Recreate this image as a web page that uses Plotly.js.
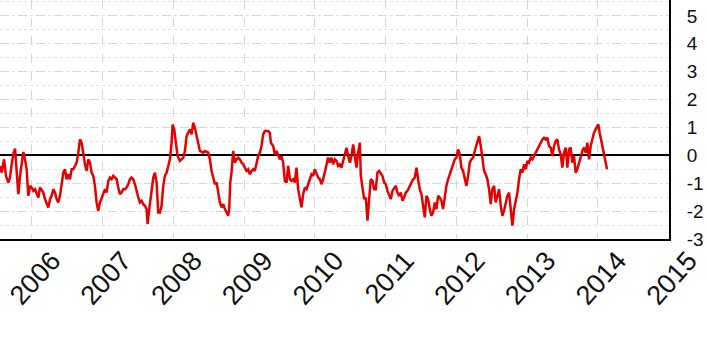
<!DOCTYPE html>
<html>
<head>
<meta charset="utf-8">
<script src="https://cdn.plot.ly/plotly-3.0.1.min.js"></script>
<style>html,body{margin:0;padding:0;background:#fff;}#chart{width:706px;height:348px;}</style>
</head>
<body>
<div id="chart"></div>
<script>
// Decimal-year time stamps
const timeYears = [
2005.548,2005.572,2005.605,2005.633,2005.666,2005.689,2005.713,2005.736,2005.760,2005.784,
2005.807,2005.831,2005.854,2005.878,2005.901,2005.925,2005.948,2005.972,2005.995,2006.019,
2006.043,2006.066,2006.090,2006.113,2006.137,2006.160,2006.184,2006.207,2006.231,2006.255,
2006.278,2006.302,2006.325,2006.349,2006.372,2006.396,2006.419,2006.443,2006.466,2006.490,
2006.514,2006.537,2006.561,2006.584,2006.608,2006.631,2006.655,2006.678,2006.702,2006.726,
2006.749,2006.773,2006.796,2006.820,2006.843,2006.867,2006.890,2006.914,2006.937,2006.961,
2006.985,2007.008,2007.032,2007.055,2007.079,2007.102,2007.126,2007.149,2007.173,2007.197,
2007.220,2007.244,2007.267,2007.291,2007.314,2007.338,2007.361,2007.385,2007.408,2007.432,
2007.456,2007.479,2007.503,2007.526,2007.550,2007.573,2007.597,2007.620,2007.635,2007.658,
2007.691,2007.715,2007.738,2007.762,2007.785,2007.809,2007.832,2007.856,2007.879,2007.903,
2007.927,2007.950,2007.974,2007.988,2008.011,2008.035,2008.058,2008.091,2008.115,2008.139,
2008.162,2008.186,2008.209,2008.233,2008.256,2008.280,2008.303,2008.327,2008.350,2008.374,
2008.421,2008.445,2008.492,2008.515,2008.539,2008.562,2008.586,2008.610,2008.633,2008.657,
2008.680,2008.704,2008.727,2008.751,2008.774,2008.788,2008.803,2008.821,2008.845,2008.869,
2008.892,2008.916,2008.939,2008.963,2008.986,2009.010,2009.033,2009.057,2009.080,2009.104,
2009.128,2009.151,2009.175,2009.198,2009.222,2009.245,2009.269,2009.292,2009.316,2009.340,
2009.363,2009.377,2009.410,2009.434,2009.457,2009.481,2009.504,2009.528,2009.551,2009.575,
2009.599,2009.622,2009.646,2009.669,2009.693,2009.716,2009.740,2009.763,2009.787,2009.811,
2009.834,2009.858,2009.881,2009.905,2009.928,2009.952,2009.975,2009.999,2010.022,2010.046,
2010.070,2010.093,2010.117,2010.140,2010.164,2010.187,2010.211,2010.234,2010.258,2010.282,
2010.305,2010.329,2010.352,2010.376,2010.399,2010.423,2010.446,2010.470,2010.494,2010.517,
2010.541,2010.564,2010.588,2010.611,2010.635,2010.649,2010.672,2010.696,2010.720,2010.743,
2010.767,2010.790,2010.814,2010.837,2010.861,2010.884,2010.908,2010.932,2010.955,2010.979,
2011.002,2011.026,2011.049,2011.073,2011.096,2011.120,2011.143,2011.167,2011.191,2011.214,
2011.238,2011.261,2011.285,2011.309,2011.332,2011.365,2011.388,2011.412,2011.436,2011.459,
2011.483,2011.506,2011.530,2011.553,2011.577,2011.600,2011.624,2011.647,2011.671,2011.695,
2011.718,2011.742,2011.765,2011.789,2011.812,2011.836,2011.859,2011.883,2011.907,2011.930,
2011.954,2011.977,2012.001,2012.024,2012.048,2012.071,2012.095,2012.118,2012.142,2012.166,
2012.189,2012.213,2012.236,2012.260,2012.283,2012.307,2012.321,2012.345,2012.368,2012.392,
2012.415,2012.439,2012.462,2012.486,2012.509,2012.533,2012.556,2012.580,2012.604,2012.627,
2012.651,2012.674,2012.698,2012.721,2012.745,2012.768,2012.792,2012.816,2012.839,2012.863,
2012.886,2012.910,2012.933,2012.957,2012.980,2013.004,2013.027,2013.051,2013.075,2013.098,
2013.122,2013.145,2013.169,2013.192,2013.216,2013.239,2013.263,2013.287,2013.310,2013.334,
2013.357,2013.381,2013.404,2013.428,2013.451,2013.475,2013.498,2013.522,2013.546,2013.569,
2013.593,2013.616,2013.640,2013.663,2013.687,2013.710,2013.734,2013.758,2013.781,2013.805,
2013.828,2013.852,2013.875,2013.899,2013.922,2013.946,2013.969,2013.993,2014.007,2014.026,
2014.050,2014.073,2014.097,2014.111,2014.130
];
// Series values
const seriesValues = [
-0.381,-0.619,-0.143,-0.738,-0.976,-0.798,-0.321,0.036,0.238,-0.5,
-1.393,-0.738,-0.262,0.119,-0.143,-0.5,-1.452,-1.095,-1.155,-1.274,
-1.214,-1.393,-1.512,-1.155,-1.274,-1.333,-1.571,-1.75,-1.869,-1.571,
-1.452,-1.214,-1.333,-1.571,-1.69,-1.452,-1.095,-0.619,-0.5,-0.857,
-0.679,-0.857,-0.5,-0.5,-0.381,-0.262,0.095,0.571,0.452,0.036,
-0.321,-0.56,-0.143,-0.262,-0.619,-0.738,-1.095,-1.69,-1.988,-1.69,
-1.512,-1.393,-1.214,-1.333,-0.917,-0.798,-0.857,-0.738,-0.798,-0.857,
-1.155,-1.393,-1.333,-1.214,-1.214,-1.155,-1.036,-0.857,-0.798,-0.857,
-1.036,-1.333,-1.512,-1.69,-1.631,-1.75,-1.81,-1.929,-2.464,-1.929,
-1.333,-0.798,-0.619,-0.976,-2.048,-2.048,-1.81,-1.095,-0.738,-0.619,
-0.381,-0.143,0.452,1.107,0.929,0.333,-0.024,-0.202,-0.143,-0.083,
0.155,0.69,0.81,0.929,0.75,1.167,0.988,0.69,0.333,0.155,
0.095,0.155,0.095,-0.143,-0.56,-0.857,-1.036,-0.976,-1.393,-1.69,
-1.869,-1.75,-1.929,-2.048,-2.167,-1.929,-0.976,-0.619,0.155,-0.262,
-0.143,-0.083,-0.143,-0.262,-0.321,-0.44,-0.56,-0.5,-0.679,-0.56,
-0.5,-0.56,-0.262,-0.024,0.095,0.333,0.75,0.869,0.869,0.869,
0.81,0.452,0.333,0.036,0.155,-0.024,-0.143,-0.024,-0.262,-0.917,
-0.976,-0.381,-0.857,-0.917,-0.857,-0.976,-0.44,-1.214,-1.512,-1.869,
-1.393,-1.155,-1.214,-0.976,-0.857,-0.679,-0.738,-0.5,-0.619,-0.798,
-0.857,-1.036,-0.857,-0.619,-0.381,-0.083,-0.262,-0.083,-0.321,-0.143,
-0.202,-0.381,-0.321,-0.44,-0.202,0.095,0.274,-0.024,-0.262,-0.024,
0.393,-0.024,-0.44,0.095,0.452,-0.738,-1.095,-1.571,-1.512,-2.345,
-1.571,-0.857,-0.917,-1.214,-1.214,-0.619,-0.56,-0.679,-0.738,-0.976,
-1.036,-1.274,-1.452,-1.571,-1.274,-1.155,-1.095,-1.333,-1.452,-1.333,
-1.631,-1.512,-1.333,-1.274,-1.155,-1.036,-0.857,-0.798,-0.44,-0.857,
-1.214,-1.393,-1.929,-2.226,-1.452,-1.571,-1.929,-2.167,-2.048,-1.69,
-1.929,-1.452,-1.512,-1.631,-1.929,-1.452,-1.095,-0.857,-0.619,-0.5,
-0.321,-0.143,-0.083,0.214,0.036,-0.44,-0.56,-0.798,-1.095,-0.738,
-0.262,-0.143,-0.083,0.155,0.333,0.571,0.69,0.333,-0.083,-0.56,
-0.679,-0.857,-1.214,-1.75,-1.214,-1.095,-1.69,-1.452,-1.214,-1.81,
-2.167,-1.988,-1.69,-1.452,-1.333,-1.81,-2.524,-1.929,-1.69,-1.333,
-0.857,-0.5,-0.619,-0.321,-0.5,-0.202,-0.262,-0.083,-0.143,-0.024,
0.095,0.214,0.333,0.452,0.571,0.631,0.571,0.631,0.333,0.274,
-0.024,0.333,0.512,0.571,0.214,0.036,-0.44,0.095,0.274,-0.44,
0.214,0.274,-0.262,-0.024,-0.619,-0.5,-0.262,-0.024,0.155,0.274,
0.095,0.452,-0.143,0.333,0.571,0.81,0.929,1.048,1.107,0.81,
0.512,0.274,-0.024,-0.143,-0.5
];
const xTickYears = [2006,2007,2008,2009,2010,2011,2012,2013,2014,2015];
const xTickLabels = ["2006","2007","2008","2009","2010","2011","2012","2013","2014","2015"];
const yTickValues = [-3,-2,-1,0,1,2,3,4,5];
const yTickLabels = ["-3","-2","-1","0","1","2","3","4","5"];

const trace = {
  x: timeYears, y: seriesValues, type: 'scatter', mode: 'lines',
  line: {color: '#e60000', width: 2.5}, hoverinfo: 'skip'
};
const fontFam = '"Liberation Sans", Arial, Helvetica, sans-serif';
const layout = {
  width: 706, height: 348,
  margin: {l: 0, r: 37, t: 0, b: 109, pad: 0},
  paper_bgcolor: '#fff', plot_bgcolor: '#fff',
  showlegend: false,
  xaxis: {
    type: 'linear', range: [2005.548, 2015.006],
    tickmode: 'array', tickvals: xTickYears, ticktext: xTickLabels,
    tickangle: -48, tickfont: {family: fontFam, size: 27, color: '#111'},
    ticks: '', ticklabelshift: 20, ticklabelstandoff: -7,
    showgrid: true, gridcolor: '#d6d6d6', gridwidth: 1, griddash: 'dash',
    showline: true, linecolor: '#000', linewidth: 2,
    zeroline: false, fixedrange: true
  },
  yaxis: {
    side: 'right', range: [-3, 5.57],
    tickmode: 'array', tickvals: yTickValues, ticktext: yTickLabels,
    tickfont: {family: fontFam, size: 19, color: '#111'},
    ticks: '', ticklabelstandoff: 12,
    showgrid: true, gridcolor: '#d6d6d6', gridwidth: 1, griddash: 'dash',
    minor: {dtick: 0.5, tick0: 0, showgrid: true, gridcolor: '#e2e2e2', griddash: 'dot', gridwidth: 1, ticks: ''},
    showline: true, linecolor: '#000', linewidth: 2,
    zeroline: true, zerolinecolor: '#000', zerolinewidth: 2,
    fixedrange: true
  }
};
Plotly.newPlot('chart', [trace], layout, {displayModeBar: false, staticPlot: true});
</script>
</body>
</html>
